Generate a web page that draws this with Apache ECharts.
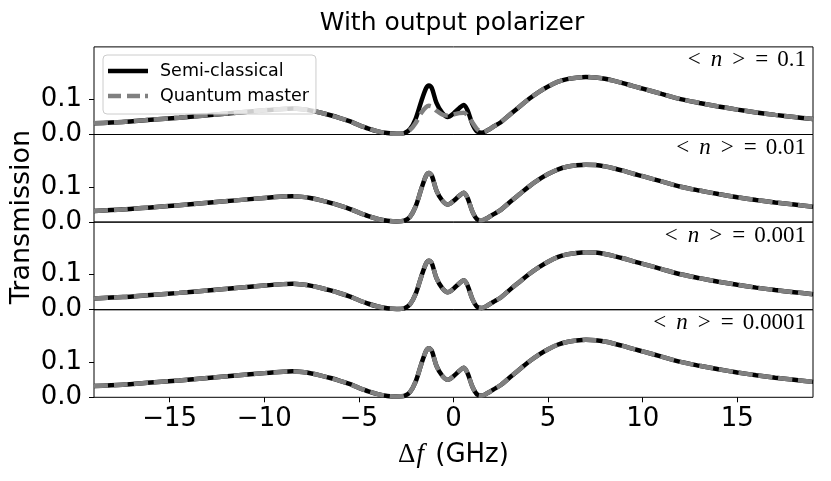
<!DOCTYPE html>
<html>
<head>
<meta charset="utf-8">
<script src="https://cdn.jsdelivr.net/npm/echarts@6/dist/echarts.min.js"></script>
<style>html,body{margin:0;padding:0;background:#fff}#c{width:831px;height:481px}</style>
</head>
<body>
<div id="c"></div>
<script>
// ---- data ----
const xs = [-19,-17.5,-16,-14.5,-13,-11.5,-10,-9,-8.5,-8,-7.5,-7,-6.5,-6,-5.5,-5,-4.5,-4,-3.5,-3,
  -2.6,-2.3,-2.0,-1.7,-1.45,-1.3,-1.15,-0.9,-0.6,-0.3,0.0,0.3,0.55,0.75,1.0,1.25,1.5,1.8,2.1,2.5,
  3.0,3.5,4.0,4.5,5.0,5.5,6.0,6.5,7.0,7.5,8,8.5,9,9.5,10,11,12,13,14,15,16,17,18,19];
const semiClassical = [0.032,0.036,0.042,0.048,0.055,0.062,0.069,0.073,0.074,0.072,0.068,0.062,0.055,0.047,0.038,0.027,0.017,0.009,0.004,0.002,
  0.004,0.015,0.045,0.095,0.132,0.140,0.133,0.090,0.062,0.050,0.060,0.075,0.084,0.068,0.030,0.008,0.005,0.012,0.022,0.035,
  0.058,0.080,0.102,0.121,0.137,0.150,0.158,0.162,0.164,0.163,0.159,0.153,0.146,0.138,0.131,0.116,0.101,0.090,0.080,0.071,0.063,0.056,0.050,0.044];
const quantumN01 = [0.032,0.036,0.042,0.048,0.055,0.062,0.069,0.073,0.074,0.072,0.068,0.062,0.055,0.047,0.038,0.027,0.017,0.009,0.004,0.002,
  0.004,0.013,0.033,0.062,0.078,0.082,0.080,0.068,0.057,0.054,0.057,0.061,0.062,0.054,0.034,0.015,0.007,0.012,0.022,0.035,
  0.058,0.080,0.102,0.121,0.137,0.150,0.158,0.162,0.164,0.163,0.159,0.153,0.146,0.138,0.131,0.116,0.101,0.090,0.080,0.071,0.063,0.056,0.050,0.044];
const quantumN001 = semiClassical;
const quantumN0001 = semiClassical;
const quantumN00001 = semiClassical;
const panelLabels = ['0.1', '0.01', '0.001', '0.0001'];
const panelQuantum = [quantumN01, quantumN001, quantumN0001, quantumN00001];
const xTicks = [-15, -10, -5, 0, 5, 10, 15];
const yTicks = [0, 0.1];

// ---- layout ----
const L = 94, W = 719, T0 = 46.9, H = 87.6;
const FS = 26;
const grids = [], xAxes = [], yAxes = [], series = [], graphics = [];
const fmtX = v => (v < 0 ? '\u2212' + Math.abs(v) : String(v));
for (let i = 0; i < 4; i++) {
  const top = T0 + i * H;
  const last = i === 3;
  grids.push({left: L, top: top, width: W, height: H, show: true, borderColor: '#000', borderWidth: 1, backgroundColor: 'transparent'});
  xAxes.push({
    type: 'value', gridIndex: i, min: -19, max: 19,
    axisLine: {show: false, onZero: false},
    splitLine: {show: false},
    axisTick: {show: last, length: 5, customValues: xTicks, lineStyle: {color: '#000', width: 1}},
    axisLabel: {show: last, customValues: xTicks, formatter: fmtX, margin: 9, color: '#000', fontSize: FS, fontFamily: 'DejaVu Sans'},
    name: last ? '{d|\u0394}{f|f}{t| (GHz)}' : '',
    nameLocation: 'middle', nameGap: 44,
    nameTextStyle: {rich: {
      d: {fontFamily: 'Liberation Serif', fontSize: 27, color: '#000'},
      f: {fontFamily: 'Liberation Serif', fontStyle: 'italic', fontSize: 27, color: '#000', padding: [0, 3, 0, 1]},
      t: {fontFamily: 'DejaVu Sans', fontSize: FS, color: '#000'}
    }}
  });
  yAxes.push({
    type: 'value', gridIndex: i, min: 0, max: 0.25,
    axisLine: {show: false, onZero: false},
    splitLine: {show: false},
    axisTick: {show: true, length: 5, customValues: yTicks, lineStyle: {color: '#000', width: 1}},
    axisLabel: {customValues: yTicks, formatter: v => v.toFixed(1), margin: 12, color: '#000', fontSize: FS, fontFamily: 'DejaVu Sans'}
  });
  series.push({
    name: 'Semi-classical', type: 'line', xAxisIndex: i, yAxisIndex: i,
    data: xs.map((x, k) => [x, semiClassical[k]]),
    showSymbol: false, symbol: 'none', smooth: 0.3, z: 2,
    lineStyle: {color: '#000', width: 4.5}, itemStyle: {color: '#000'}
  });
  series.push({
    name: 'Quantum master', type: 'line', xAxisIndex: i, yAxisIndex: i,
    data: xs.map((x, k) => [x, panelQuantum[i][k]]),
    showSymbol: false, symbol: 'none', smooth: 0.3, z: 3,
    lineStyle: {color: '#808080', width: 4.5, type: [14, 6]}, itemStyle: {color: '#808080'}
  });
  graphics.push({
    type: 'text', right: 831 - 806, top: top + 2, z: 10,
    style: {
      text: '{a|<}{i|n}{b|>}{b|=}{c|' + panelLabels[i] + '}',
      rich: {
        a: {fontFamily: 'Liberation Serif', fontSize: 23, color: '#000', padding: [0, 5, 0, 0]},
        i: {fontFamily: 'Liberation Serif', fontStyle: 'italic', fontSize: 23, color: '#000', padding: [0, 5, 0, 5]},
        b: {fontFamily: 'Liberation Serif', fontSize: 23, color: '#000', padding: [0, 5, 0, 5]},
        c: {fontFamily: 'Liberation Serif', fontSize: 23, color: '#000', padding: [0, 0, 0, 4]}
      }
    }
  });
}
graphics.push({
  type: 'text', x: 22, y: 217, rotation: Math.PI / 2, z: 10,
  style: {text: 'Transmission', fontFamily: 'DejaVu Sans', fontSize: 27, fill: '#000', align: 'center', verticalAlign: 'middle'}
});

const chart = echarts.init(document.getElementById('c'), null, {renderer: 'canvas'});
chart.setOption({
  animation: false,
  backgroundColor: '#fff',
  title: {text: 'With output polarizer', left: 447, top: 6, textAlign: 'center',
    textStyle: {fontFamily: 'DejaVu Sans', fontSize: 25, fontWeight: 'normal', color: '#000'}},
  legend: {
    data: [
      {name: 'Semi-classical', icon: 'path://M0,0H40V4.5H0Z', itemStyle: {color: '#000', borderWidth: 0}},
      {name: 'Quantum master', icon: 'path://M0,0H13V4.5H0Z M19,0H32V4.5H19Z M37,0H40V4.5H37Z', itemStyle: {color: '#808080', borderWidth: 0}}
    ],
    orient: 'vertical', left: 103, top: 55, itemWidth: 40, itemHeight: 4.5, itemGap: 7,
    padding: [7, 7, 9, 5],
    backgroundColor: 'rgba(255,255,255,0.8)', borderColor: '#ccc', borderWidth: 1, borderRadius: 4,
    textStyle: {fontFamily: 'DejaVu Sans', fontSize: 17.5, color: '#000', padding: [0, 0, 0, 7]},
    selectedMode: false, z: 20
  },
  grid: grids, xAxis: xAxes, yAxis: yAxes, series: series, graphic: graphics
});
</script>
</body>
</html>
